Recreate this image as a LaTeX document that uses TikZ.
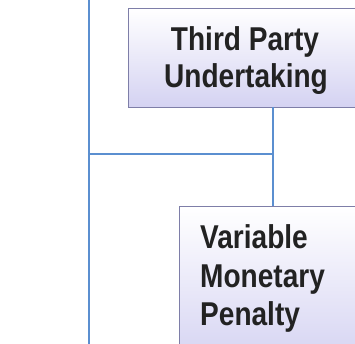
\documentclass[tikz,border=0pt]{standalone}
\usepackage{fontspec}
\setmainfont{Liberation Sans}
\definecolor{linkblue}{HTML}{5B8FD0}
\definecolor{boxedge}{HTML}{7E7EA8}
\definecolor{boxlow}{HTML}{D4D2F2}
\definecolor{ink}{HTML}{222222}
\tikzset{
  x=1pt, y=-1pt,
  link/.style={draw=linkblue, line width=1.4pt},
  termbox/.style={draw=boxedge, line width=1.2pt, top color=white, bottom color=boxlow, shading angle=0},
  lbl/.style={font=\fontsize{33}{38}\selectfont\bfseries, text=ink, inner sep=0pt}
}
\newcommand{\sq}[1]{\scalebox{0.85}[1]{#1}}
\begin{document}
\begin{tikzpicture}
\useasboundingbox (0,0) rectangle (355,343);
\clip (0,0) rectangle (355,343);
% boxes
\node[termbox, anchor=north west, minimum width=236pt, minimum height=99pt, inner sep=0pt] (tpu) at (128,8) {};
\node[termbox, anchor=north west, minimum width=200pt, minimum height=160pt, inner sep=0pt] (vmp) at (179,206) {};
% labels
\node[lbl, anchor=base] (tpu1) at (245,50) {\sq{Third Party}};
\node[lbl, anchor=base] (tpu2) at (246,87) {\sq{Undertaking}};
\node[lbl, anchor=base west] (vmp1) at (200,248) {\sq{Variable}};
\node[lbl, anchor=base west] (vmp2) at (200,287) {\sq{Monetary}};
\node[lbl, anchor=base west] (vmp3) at (200,325) {\sq{Penalty}};
% connectors
\coordinate (top) at (89,-2);
\coordinate (bot) at (89,345);
\coordinate (join) at (89,154);
\coordinate (tpub) at (273,107);
\draw[link] (top) -- (bot);
\draw[link] (tpub) -- (tpub |- vmp.north);
\draw[link] (join) -- (join -| tpub);
\end{tikzpicture}
\end{document}
